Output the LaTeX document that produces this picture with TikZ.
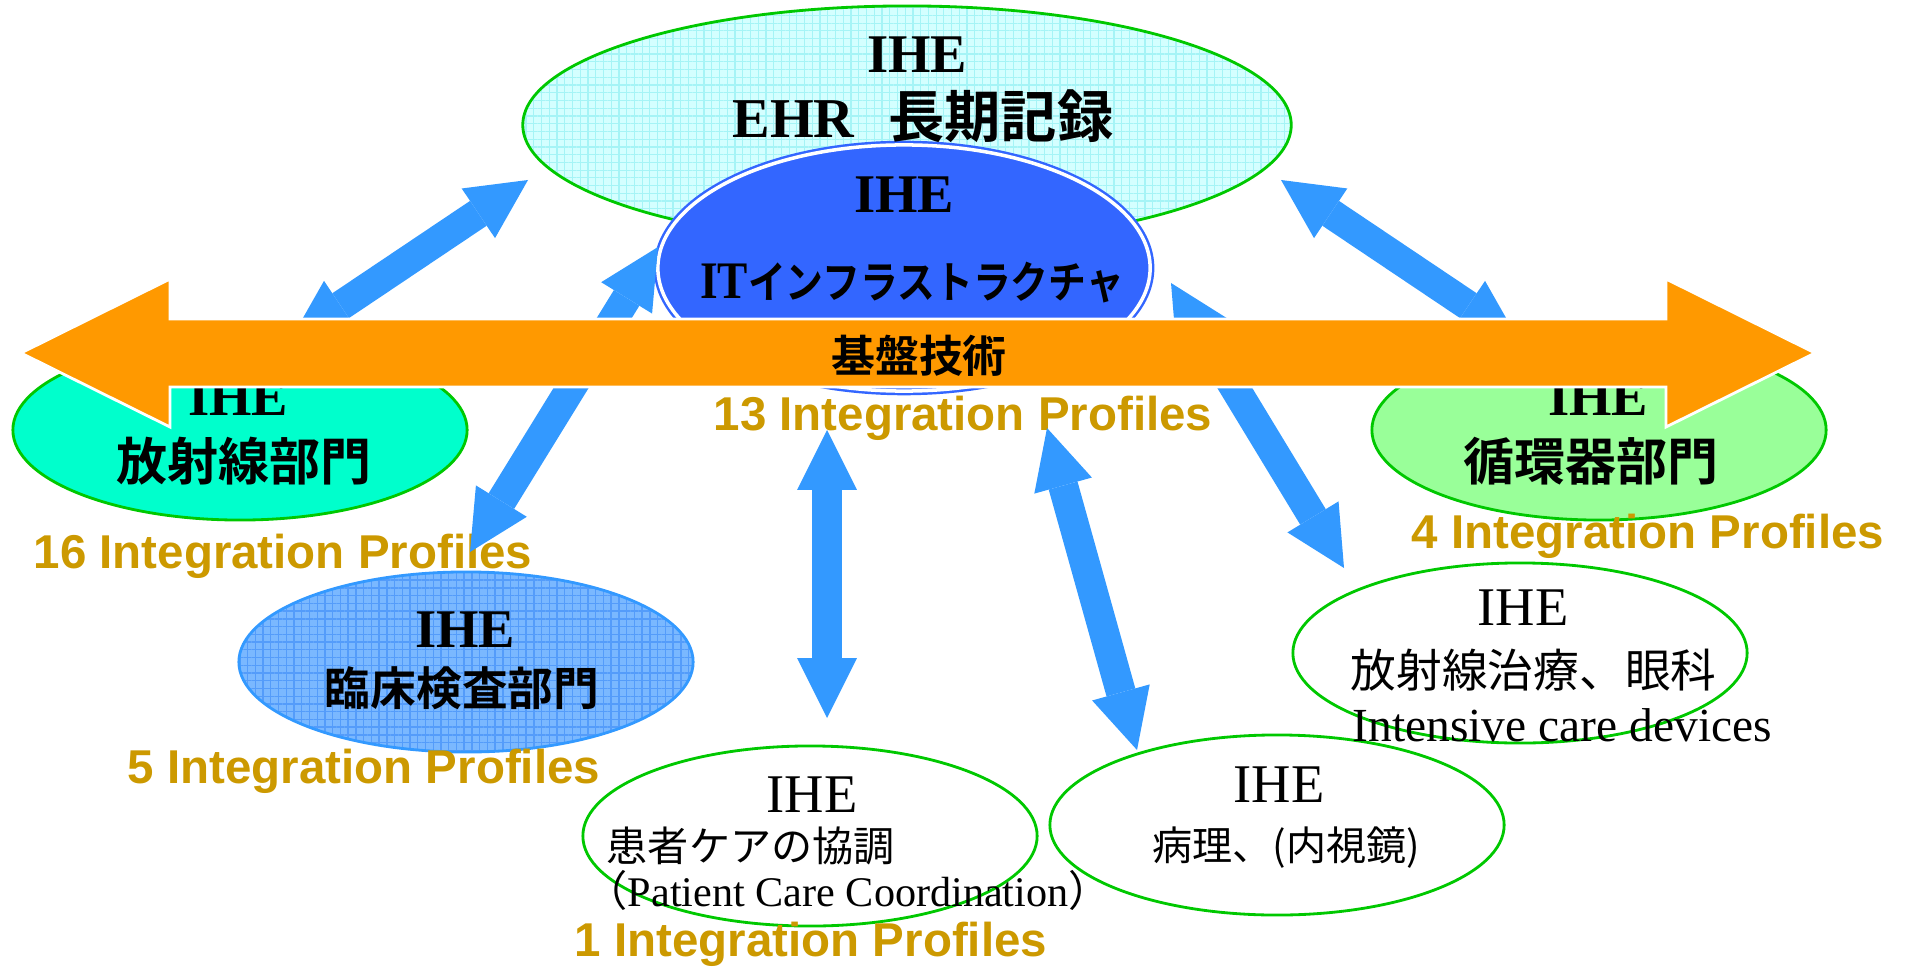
\documentclass[tikz,border=0pt]{standalone}
\usepackage{graphicx}
\usepackage{fontspec}
\setmainfont{Liberation Serif}
\newfontfamily\jp{Noto Sans CJK JP}[BoldFont={* Bold}]
\newfontfamily\arial{Liberation Sans}
\usetikzlibrary{shapes.geometric,arrows.meta,patterns.meta}
\definecolor{ehrcyan}{RGB}{212,255,255}
\definecolor{ehrgrid}{RGB}{165,244,246}
\definecolor{infrablue}{RGB}{51,102,255}
\definecolor{labblue}{RGB}{122,184,255}
\definecolor{labgrid}{RGB}{84,156,250}
\definecolor{radgreen}{RGB}{0,255,204}
\definecolor{cardgreen}{RGB}{153,255,153}
\definecolor{rimgreen}{RGB}{0,200,0}
\definecolor{linkblue}{RGB}{51,153,255}
\definecolor{coreorange}{RGB}{255,153,0}
\definecolor{profgold}{RGB}{204,153,0}
\begin{document}
\begin{tikzpicture}[x=0.01cm,y=-0.01cm,
  dept/.style={shape=ellipse,minimum width=4.54cm,minimum height=1.8cm,inner sep=0pt,draw=rimgreen,line width=0.8pt},
  txt/.style={inner sep=0pt,anchor=base},
  ihe/.style={txt,font=\fontsize{15.5}{18}\selectfont},
  bihe/.style={txt,font=\fontsize{15.5}{18}\selectfont\bfseries},
  prof/.style={txt,text=profgold,font=\fontsize{13.5}{16}\selectfont\arial\bfseries},
  link/.style={draw=linkblue,line width=8.5pt,>={Triangle[length=17pt,width=17pt,line width=0pt]},<->}]
\useasboundingbox (0,0) rectangle (1907,967);
\node (ehr) at (907,125) [shape=ellipse,minimum width=7.68cm,minimum height=2.38cm,inner sep=0pt,draw=rimgreen,line width=0.8pt,preaction={fill=ehrcyan},pattern={Hatch[angle=0,distance=2.2pt,line width=0.35pt]},pattern color=ehrgrid] {};
\node (infra) at (904,268) [shape=ellipse,minimum width=4.92cm,minimum height=2.46cm,inner sep=0pt,fill=infrablue,draw=infrablue,double=white,double distance=1pt,line width=0.7pt] {};
\node (rad) at (240,430) [dept,fill=radgreen] {};
\node (card) at (1599,430) [dept,fill=cardgreen] {};
\node (lab) at (466,662) [dept,draw=linkblue,preaction={fill=labblue},pattern={Hatch[angle=0,distance=2.2pt,line width=0.4pt]},pattern color=labgrid] {};
\node (pcc) at (810,836) [dept] {};
\node (path) at (1277,825) [dept] {};
\node (rt) at (1520,653) [dept] {};
\node (ehr1) at (917,73) [bihe] {IHE};
\node (ehr2) at (923,138) [txt,font=\fontsize{16}{19}\selectfont\bfseries] {EHR\hspace{0.6em}{\jp 長期記録}};
\node (infra1) at (904,213) [bihe] {IHE};
\node (infra2) at (912,298) [txt,font=\fontsize{12.5}{15}\selectfont\bfseries] {\scalebox{0.86}[1]{{\fontsize{15}{15}\selectfont IT}{\jp インフラストラクチャ}}};
\node (rad1) at (238,415) [bihe] {IHE};
\node (rad2) at (244,480) [txt,font=\fontsize{14.5}{17}\selectfont\bfseries\jp] {放射線部門};
\node (card1) at (1598,415) [bihe] {IHE};
\node (card2) at (1591,480) [txt,font=\fontsize{14.5}{17}\selectfont\bfseries\jp] {循環器部門};
\node (lab1) at (465,647) [bihe] {IHE};
\node (lab2) at (462,705) [txt,font=\fontsize{13}{16}\selectfont\bfseries\jp] {臨床検査部門};
\node (pcc1) at (812,812) [ihe] {IHE};
\node (pcc2) at (606,861) [txt,anchor=base west,font=\fontsize{11.7}{14}\selectfont\jp] {患者ケアの協調};
\node (pcc3) at (585,906) [txt,anchor=base west,font=\fontsize{12}{14}\selectfont] {{\jp （}Patient Care Coordination{\jp ）}};
\node (path1) at (1279,802) [ihe] {IHE};
\node (path2) at (1286,860) [txt,font=\fontsize{11.4}{14}\selectfont\jp] {病理、(内視鏡)};
\node (rt1) at (1523,625) [ihe] {IHE};
\node (rt2) at (1350,687) [txt,anchor=base west,font=\fontsize{13}{16}\selectfont\jp] {放射線治療、眼科};
\node (rt3) at (1352,741) [txt,anchor=base west,font=\fontsize{13.5}{16}\selectfont] {Intensive care devices};
\node (radprof) at (283,568) [prof] {16 Integration Profiles};
\node (infraprof) at (963,430) [prof] {13 Integration Profiles};
\node (cardprof) at (1648,548) [prof] {4 Integration Profiles};
\node (labprof) at (364,783) [prof] {5 Integration Profiles};
\node (pccprof) at (811,956) [prof] {1 Integration Profiles};
\coordinate (radtip) at (291,339);
\coordinate (ehrtipL) at (528,180);
\coordinate (cardtip) at (1518,339);
\coordinate (ehrtipR) at (1281,180);
\coordinate (infratipL) at (658,247);
\coordinate (labtip) at (470,552);
\coordinate (infratipR) at (1171,283);
\coordinate (rttip) at (1344,568);
\coordinate (pcctipU) at (827,430);
\coordinate (pcctip) at (827,718);
\coordinate (pathtipU) at (1047,428);
\coordinate (pathtip) at (1137,750);
\draw[link] (radtip) -- (ehrtipL);
\draw[link] (cardtip) -- (ehrtipR);
\draw[link] (infratipL) -- (labtip);
\draw[link] (infratipR) -- (rttip);
\draw[link] (pcctipU) -- (pcctip);
\draw[link] (pathtipU) -- (pathtip);
\coordinate (coreL) at (21,353);
\coordinate (coreR) at (1815,353);
\path[fill=coreorange,draw=white,line width=0.8pt] (coreL) -- ++(149,-74) -- ++(0,40) -- ++(1496,0) -- ++(0,-40) -- (coreR) -- ++(-149,74) -- ++(0,-40) -- ++(-1496,0) -- ++(0,40) -- cycle;
\node (core) at (919,372) [txt,font=\fontsize{12.5}{15}\selectfont\bfseries\jp] {基盤技術};
\end{tikzpicture}
\end{document}
